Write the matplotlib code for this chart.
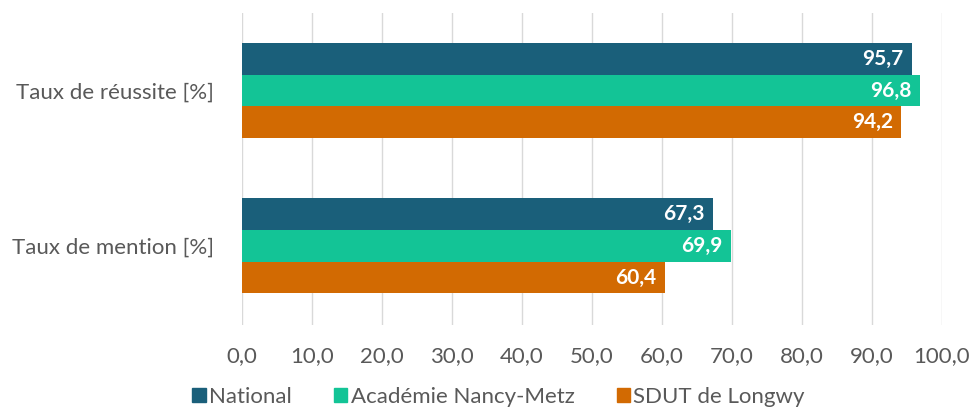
import numpy as np
import matplotlib
matplotlib.use('Agg')
import matplotlib.pyplot as plt
from matplotlib.patches import Patch

plt.rcParams['font.family'] = ['Lato', 'DejaVu Sans']

categories = ['Taux de réussite [%]', 'Taux de mention [%]']
series_names = ['National', 'Académie Nancy-Metz', 'SDUT de Longwy']
national = [95.7, 67.3]
academie = [96.8, 69.9]
sdut = [94.2, 60.4]
xticks = [0, 10, 20, 30, 40, 50, 60, 70, 80, 90, 100]

colors = ['#1a5f7a', '#13c496', '#d26a02']
text_grey = '#595959'

fig = plt.figure(figsize=(9.74, 4.12), dpi=100)
ax = fig.add_axes([0.2485, 0.2112, 0.7186, 0.7572])

y = np.arange(len(categories))
h = 0.2045
for i, (vals, c) in enumerate(zip([national, academie, sdut], colors)):
    pos = y + (i - 1) * h
    bars = ax.barh(pos, vals, height=h, color=c, zorder=3)
    for b, v in zip(bars, vals):
        ax.text(v - 1.2, b.get_y() + b.get_height() / 2, f'{v:.1f}'.replace('.', ','),
                ha='right', va='center', color='white', fontsize=15, fontweight='bold', zorder=4)

ax.set_xlim(0, 100)
ax.set_ylim(1.51, -0.5)
ax.set_xticks(xticks)
ax.set_xticklabels([f'{t:.1f}'.replace('.', ',') for t in xticks], fontsize=16, color=text_grey)
ax.set_yticks(y)
ax.set_yticklabels(categories, fontsize=16, color=text_grey)
ax.tick_params(axis='both', length=0)
ax.tick_params(axis='x', pad=15)
ax.tick_params(axis='y', pad=20)
ax.grid(axis='x', color='#d9d9d9', linewidth=1, zorder=0)
for s in ax.spines.values():
    s.set_visible(False)

handles = [Patch(color=c, label=n) for c, n in zip(colors, series_names)]
fig.legend(handles=handles, loc='center', bbox_to_anchor=(0.512, 0.036), ncol=3, frameon=False,
           fontsize=16, labelcolor=text_grey, handlelength=0.6, handleheight=0.6,
           handletextpad=0.15, columnspacing=1.9, borderpad=0)

fig.savefig('out.png', dpi=100)
